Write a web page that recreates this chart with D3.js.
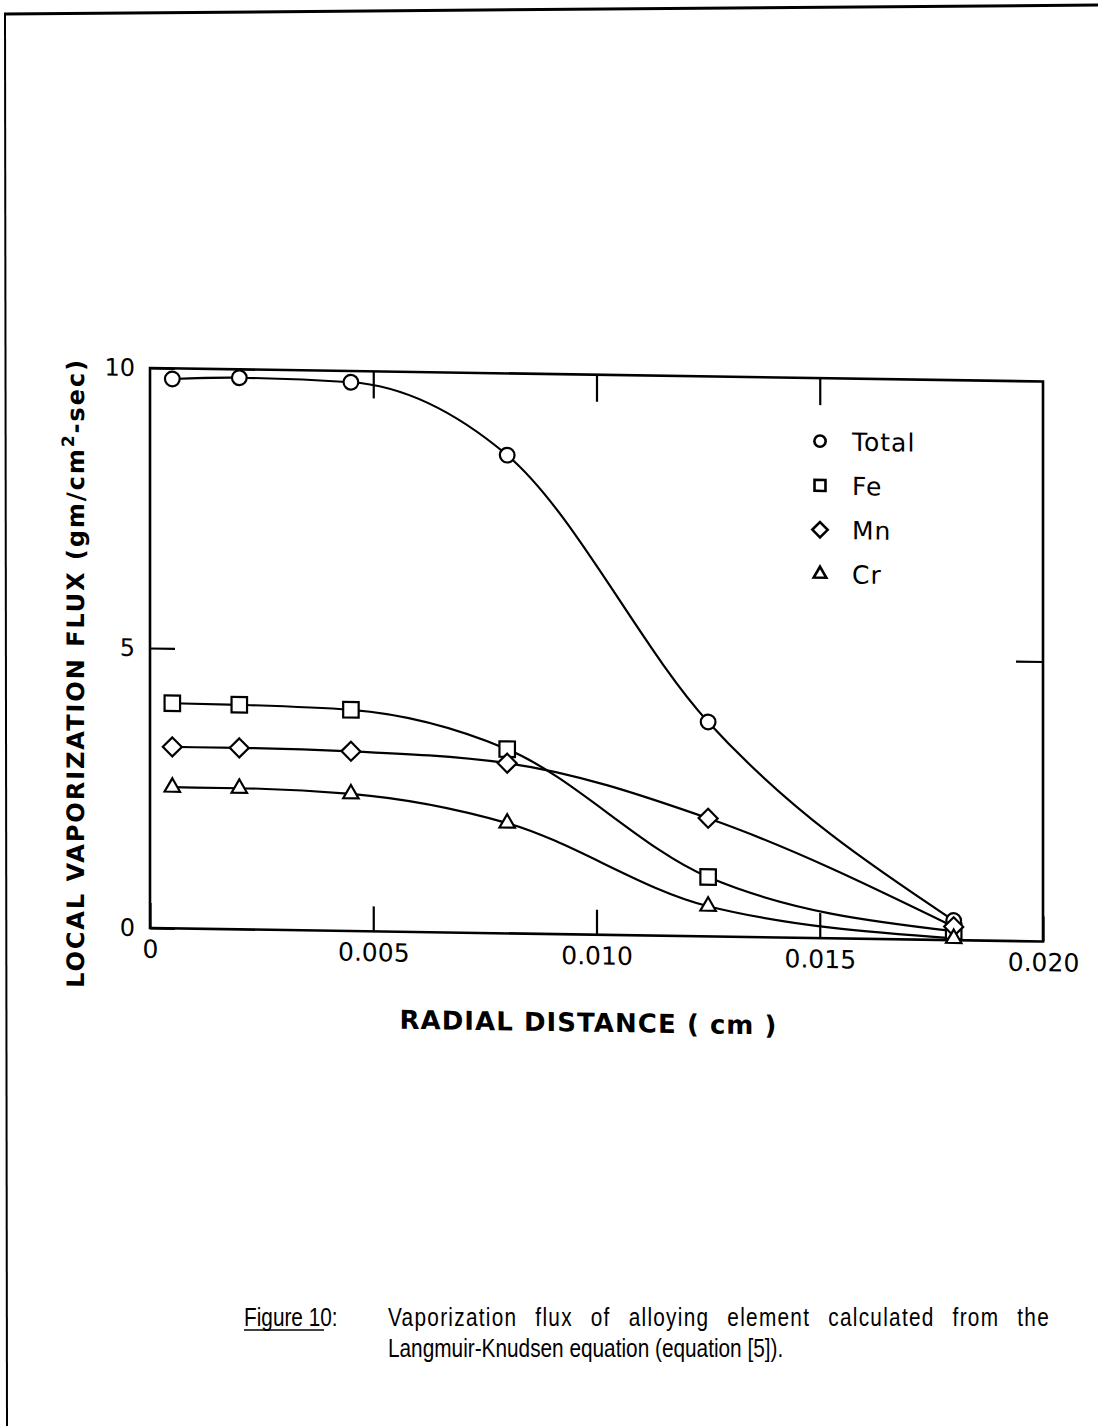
<!DOCTYPE html>
<html>
<head>
<meta charset="utf-8">
<script src="https://cdn.jsdelivr.net/npm/d3@7"></script>
<style>
  html, body { margin: 0; padding: 0; background: #fff; }
</style>
</head>
<body>
<svg id="chart"></svg>
<script>
// data
const radialDistance = [0.0005, 0.002, 0.0045, 0.008, 0.0125, 0.018];
const totalFlux = [9.81, 9.85, 9.80, 8.54, 3.83, 0.35];
const feFlux = [4.02, 4.01, 3.95, 3.29, 1.06, 0.16];
const mnFlux = [3.24, 3.24, 3.21, 3.04, 2.11, 0.24];
const crFlux = [2.52, 2.52, 2.45, 1.97, 0.54, 0.03];
const seriesNames = ['Total', 'Fe', 'Mn', 'Cr'];
const seriesSymbols = ['circle', 'square', 'diamond', 'triangle'];
const xTickValues = [0, 0.005, 0.010, 0.015, 0.020];
const xTickLabels = ['0', '0.005', '0.010', '0.015', '0.020'];
const yTickValues = [0, 5, 10];

const pageWidth = 1098;
const pageHeight = 1426;
const plotWidth = 893;
const plotHeight = 560;
const tilt = 0.866; // scan is slightly skewed

const svg = d3.select('#chart')
  .attr('width', pageWidth)
  .attr('height', pageHeight)
  .attr('xmlns', d3.namespaces.svg);

// page border of the scanned sheet
svg.append('line')
  .attr('x1', 4).attr('y1', 14).attr('x2', pageWidth).attr('y2', 5)
  .attr('stroke', '#000').attr('stroke-width', 3);
svg.append('line')
  .attr('x1', 5).attr('y1', 13).attr('x2', 7).attr('y2', pageHeight)
  .attr('stroke', '#000').attr('stroke-width', 2);

const chart = svg.append('g')
  .attr('transform', `translate(150, 368) skewY(${tilt})`);

const xScale = d3.scaleLinear().domain([0, 0.02]).range([0, plotWidth]);
const yScale = d3.scaleLinear().domain([0, 10]).range([plotHeight, 0]);

const series = [totalFlux, feFlux, mnFlux, crFlux].map((vals, i) => ({
  name: seriesNames[i],
  symbol: seriesSymbols[i],
  points: vals.map((v, j) => ({ x: radialDistance[j], y: v }))
}));

// axes: ticks point inwards
const fmt = (d) => xTickLabels[xTickValues.indexOf(d)];
const xAxis = chart.append('g')
  .attr('transform', `translate(0, ${plotHeight})`)
  .call(d3.axisBottom(xScale).tickValues(xTickValues).tickSize(-25).tickPadding(12).tickFormat(fmt));
chart.append('g')
  .call(d3.axisTop(xScale).tickValues([0.005, 0.010, 0.015]).tickSize(-27).tickFormat(''));
const yAxis = chart.append('g')
  .call(d3.axisLeft(yScale).tickValues(yTickValues).tickSize(-25).tickPadding(15).tickFormat(d3.format('d')));
chart.append('g')
  .attr('transform', `translate(${plotWidth}, 0)`)
  .call(d3.axisRight(yScale).tickValues([5]).tickSize(-27).tickFormat(''));

chart.selectAll('.domain').remove();
chart.selectAll('.tick line').attr('stroke', '#000').attr('stroke-width', 2.2);
xAxis.selectAll('text')
  .attr('font-family', 'DejaVu Sans').attr('font-size', 25).attr('fill', '#000');
yAxis.selectAll('text')
  .attr('font-family', 'DejaVu Sans').attr('font-size', 24).attr('fill', '#000');

// frame
chart.append('rect')
  .attr('x', xScale(0)).attr('y', yScale(10))
  .attr('width', xScale(0.02) - xScale(0))
  .attr('height', yScale(0) - yScale(10))
  .attr('fill', 'none').attr('stroke', '#000').attr('stroke-width', 2.6);

// curves
const line = d3.line()
  .x((d) => xScale(d.x))
  .y((d) => yScale(d.y))
  .curve(d3.curveMonotoneX);

chart.selectAll('.curve')
  .data(series)
  .enter()
  .append('path')
  .attr('class', 'curve')
  .attr('d', (s) => line(s.points))
  .attr('fill', 'none')
  .attr('stroke', '#000')
  .attr('stroke-width', 2.2);

function symbolPath(name, size) {
  const shapes = {
    circle: d3.symbolCircle,
    square: d3.symbolSquare,
    diamond: d3.symbolDiamond2,
    triangle: d3.symbolTriangle2
  };
  return d3.symbol().type(shapes[name]).size(size)();
}
const markerSize = { circle: 170, square: 240, diamond: 230, triangle: 170 };

series.forEach((s) => {
  chart.selectAll(null)
    .data(s.points)
    .enter()
    .append('path')
    .attr('transform', (d) => `translate(${xScale(d.x)}, ${yScale(d.y)})`)
    .attr('d', symbolPath(s.symbol, markerSize[s.symbol]))
    .attr('fill', '#fff')
    .attr('stroke', '#000')
    .attr('stroke-width', 2.2);
});

// legend
const legendSize = { circle: 100, square: 120, diamond: 150, triangle: 115 };
const legend = chart.append('g').attr('transform', 'translate(670, 63)');
const legendRows = legend.selectAll('g')
  .data(series)
  .enter()
  .append('g')
  .attr('transform', (s, i) => `translate(0, ${i * 44.3})`);
legendRows.append('path')
  .attr('d', (s) => symbolPath(s.symbol, legendSize[s.symbol]))
  .attr('fill', '#fff')
  .attr('stroke', '#000')
  .attr('stroke-width', 2.6);
legendRows.append('text')
  .attr('x', 32)
  .attr('dy', '0.36em')
  .attr('font-family', 'DejaVu Sans')
  .attr('font-size', 25)
  .attr('letter-spacing', 1)
  .text((s) => s.name);

// axis titles
chart.append('text')
  .attr('x', 438).attr('y', 657)
  .attr('text-anchor', 'middle')
  .attr('font-family', 'DejaVu Sans')
  .attr('font-weight', 'bold')
  .attr('font-size', 26)
  .attr('textLength', 377)
  .attr('lengthAdjust', 'spacing')
  .text('RADIAL  DISTANCE ( cm )');

const yTitle = chart.append('text')
  .attr('transform', 'translate(-66, 307) rotate(-90)')
  .attr('text-anchor', 'middle')
  .attr('font-family', 'DejaVu Sans')
  .attr('font-weight', 'bold')
  .attr('font-size', 24)
  .attr('textLength', 628)
  .attr('lengthAdjust', 'spacing');
yTitle.append('tspan').text('LOCAL VAPORIZATION FLUX (gm/cm');
yTitle.append('tspan').attr('font-size', 17).attr('dy', -10).text('2');
yTitle.append('tspan').attr('dy', 10).text('-sec)');

// caption: condensed face, justified first line
const condense = 0.8;
const caption = svg.append('g')
  .attr('font-family', 'Liberation Sans')
  .attr('font-size', 26)
  .attr('fill', '#000');
caption.append('text')
  .attr('transform', `translate(244, 1326) scale(${condense}, 1)`)
  .text('Figure 10:');
caption.append('line')
  .attr('x1', 244).attr('y1', 1330).attr('x2', 324).attr('y2', 1330)
  .attr('stroke', '#000').attr('stroke-width', 1.6);
const line1 = caption.append('text')
  .attr('transform', `translate(388, 1326) scale(${condense}, 1)`)
  .attr('letter-spacing', 1.6)
  .text('Vaporization flux of alloying element calculated from the');
caption.append('text')
  .attr('transform', `translate(388, 1357) scale(${condense}, 1)`)
  .text('Langmuir-Knudsen equation (equation [5]).');

// stretch the word gaps so line one ends at the right margin
const natural = line1.node().getComputedTextLength();
const gaps = 7;
line1.attr('word-spacing', Math.max(0, (662 / condense - natural) / gaps));
</script>
</body>
</html>
